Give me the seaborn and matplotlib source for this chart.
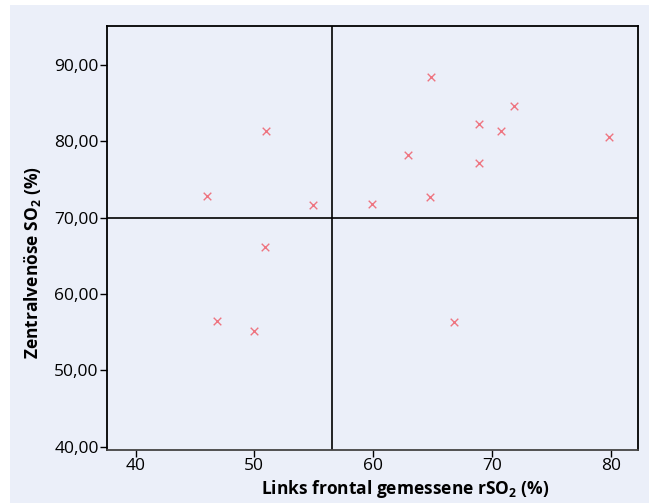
import matplotlib
import numpy as np
import pandas as pd

matplotlib.use("Agg")
import matplotlib.pyplot as plt
import seaborn as sns
from matplotlib.patches import Rectangle

sns.set_theme(style="white")
plt.rcParams["font.family"] = ["Open Sans", "DejaVu Sans"]
plt.rcParams["mathtext.default"] = "regular"

# data
rso2_links = [64.9, 71.9, 68.9, 70.8, 79.9, 62.9, 68.9, 64.8,
              51.0, 46.0, 54.9, 59.9, 50.9, 46.9, 50.0, 66.8]
svo2 = [88.4, 84.6, 82.2, 81.3, 80.5, 78.2, 77.2, 72.75,
        81.4, 72.8, 71.6, 71.8, 66.1, 56.5, 55.1, 56.3]
x_ticks = [40, 50, 60, 70, 80]
y_ticks = [40, 50, 60, 70, 80, 90]
y_tick_labels = ["40,00", "50,00", "60,00", "70,00", "80,00", "90,00"]
x_cut = 56.5
y_cut = 70

df = pd.DataFrame({"x": rso2_links, "y": svo2})

bg = "#ebeff9"
fig = plt.figure(figsize=(6.49, 5.03), dpi=100, facecolor="white")
fig.patches.append(Rectangle((10 / 649, 0), 1, 1 - 5 / 503, transform=fig.transFigure,
                             facecolor=bg, edgecolor="none", zorder=-10))
ax = fig.add_axes([107 / 649, 53 / 503, 531 / 649, 424 / 503])
ax.set_facecolor(bg)

sns.scatterplot(data=df, x="x", y="y", marker="x", color="#ee7480", s=30,
                linewidth=1.0, ax=ax, zorder=3)

ax.axvline(x_cut, color="black", lw=1.2, zorder=2)
ax.axhline(y_cut, color="black", lw=1.2, zorder=2)

ax.set_xlim(37.6, 82.3)
ax.set_ylim(39.55, 95.1)
ax.set_xticks(x_ticks)
ax.set_yticks(y_ticks)
ax.set_yticklabels(y_tick_labels)
ax.tick_params(axis="both", direction="out", length=5, width=1, color="black",
               labelsize=12.5, labelcolor="black", pad=1, left=True, bottom=True)

for s in ax.spines.values():
    s.set_color("black")
    s.set_linewidth(1.3)
ax.spines["bottom"].set_color("#444444")

ax.set_xlabel("Links frontal gemessene rSO$_2$ (%)", fontsize=12.5, fontweight="bold",
              color="black")
ax.set_ylabel("Zentralvenöse SO$_2$ (%)", fontsize=12.5, fontweight="bold", color="black")
ax.xaxis.set_label_coords(0.561, -0.066)
ax.yaxis.set_label_coords(-0.121, 0.443)

plt.savefig("out.png", dpi=100, facecolor="white")
plt.close()
